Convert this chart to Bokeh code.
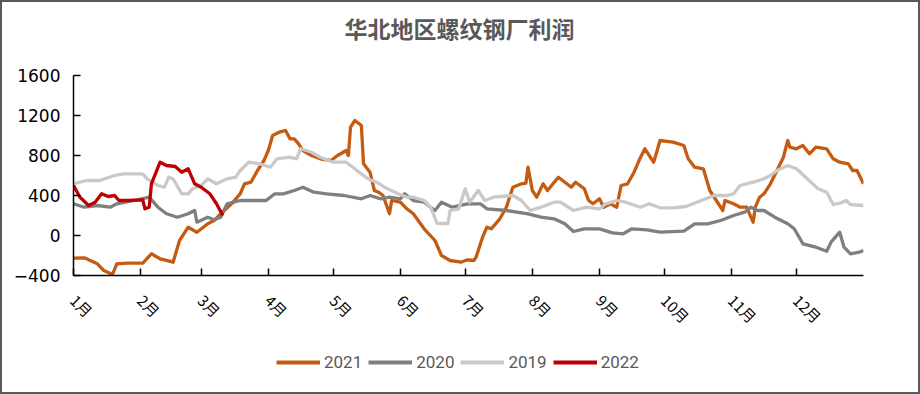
import math
from bokeh.plotting import figure
from bokeh.models import Range1d, FixedTicker, Legend, LegendItem
from bokeh.layouts import column
from bokeh.embed import file_html
from bokeh.resources import INLINE

# ---------------- data ----------------
title_text = "华北地区螺纹钢厂利润"
month_labels = ["1月", "2月", "3月", "4月", "5月", "6月", "7月", "8月", "9月", "10月", "11月", "12月"]
month_start_day = [0, 31, 59, 90, 120, 151, 181, 212, 243, 273, 304, 334]
y_ticks = [-400, 0, 400, 800, 1200, 1600]

day_2021 = [0, 5, 11, 14, 18, 20, 25, 32, 36, 40, 42, 46, 49, 53, 57, 60, 62, 65, 68, 73, 77, 79, 82, 85, 88,
            90, 92, 95, 98, 100, 102, 104, 106, 110, 114, 119, 122, 126, 127, 128, 130, 133, 134, 137, 139, 141,
            143, 146, 147, 151, 154, 157, 162, 167, 170, 174, 179, 182, 185, 186, 189, 191, 193, 197, 200, 203,
            207, 209, 210, 212, 214, 217, 219, 224, 227, 230, 232, 236, 238, 240, 243, 245, 248, 251, 253, 256,
            259, 262, 264, 268, 269, 271, 277, 282, 284, 287, 291, 294, 297, 300, 301, 305, 308, 311, 314, 315,
            317, 319, 322, 325, 328, 330, 331, 334, 337, 340, 343, 348, 351, 354, 358, 360, 362, 365]
val_2021 = [-227, -223, -283, -350, -390, -283, -277, -277, -183, -233, -243, -267, -50, 83, 33, 83, 117, 150,
            217, 317, 417, 517, 533, 650, 750, 850, 1000, 1033, 1050, 967, 967, 917, 850, 800, 767, 750, 800, 850,
            800, 1083, 1150, 1100, 717, 633, 450, 433, 400, 217, 350, 333, 267, 217, 67, -50, -200, -250, -267,
            -243, -250, -217, -17, 83, 67, 167, 283, 483, 517, 523, 683, 450, 383, 517, 450, 583, 533, 483, 533,
            467, 350, 317, 367, 283, 317, 283, 500, 517, 633, 783, 867, 733, 800, 950, 933, 900, 767, 683, 667,
            450, 350, 250, 350, 317, 283, 283, 133, 283, 383, 417, 517, 650, 783, 950, 883, 867, 900, 817, 883,
            867, 767, 733, 717, 650, 650, 517]

day_2020 = [0, 5, 11, 17, 20, 28, 35, 39, 43, 48, 53, 56, 57, 62, 65, 68, 71, 77, 83, 89, 93, 97, 102, 106, 111,
            117, 125, 133, 137, 142, 146, 151, 153, 157, 162, 167, 170, 175, 182, 188, 191, 200, 210, 216, 222,
            227, 231, 236, 243, 249, 254, 258, 265, 271, 282, 287, 293, 299, 305, 310, 313, 316, 319, 324, 330,
            333, 337, 343, 348, 350, 354, 356, 359, 363, 365]
val_2020 = [317, 283, 300, 283, 317, 350, 383, 283, 217, 183, 217, 250, 133, 183, 157, 183, 317, 350, 350, 350,
            417, 417, 450, 483, 433, 417, 400, 367, 400, 367, 383, 367, 417, 350, 333, 250, 333, 283, 317, 317,
            267, 250, 217, 183, 167, 117, 40, 67, 67, 27, 17, 67, 57, 33, 43, 117, 117, 150, 200, 233, 283, 250,
            250, 183, 117, 67, -83, -117, -157, -67, 33, -117, -183, -167, -150]

day_2019 = [0, 6, 12, 19, 23, 32, 34, 39, 42, 44, 46, 50, 53, 55, 59, 62, 66, 71, 75, 77, 81, 86, 91, 94, 100,
            103, 105, 110, 114, 120, 126, 131, 136, 140, 145, 150, 154, 157, 162, 165, 168, 173, 174, 178, 181,
            183, 187, 190, 194, 203, 207, 211, 216, 222, 225, 231, 237, 243, 246, 251, 255, 262, 266, 271, 277,
            283, 290, 296, 302, 305, 308, 314, 319, 322, 325, 330, 334, 339, 344, 348, 351, 354, 357, 359, 365]
val_2019 = [517, 550, 550, 600, 617, 617, 567, 500, 483, 583, 567, 417, 417, 467, 500, 567, 517, 567, 583, 650,
            733, 717, 683, 767, 783, 767, 867, 833, 783, 733, 733, 650, 567, 533, 467, 417, 383, 383, 350, 283,
            120, 120, 250, 267, 467, 333, 450, 350, 383, 400, 350, 250, 283, 333, 333, 250, 283, 267, 317, 350,
            333, 283, 317, 277, 277, 290, 350, 400, 400, 417, 500, 533, 567, 600, 650, 700, 667, 567, 467, 433,
            310, 323, 350, 310, 300]

day_2022 = [0, 3, 7, 10, 13, 16, 19, 21, 25, 32, 33, 35, 36, 40, 43, 47, 50, 53, 56, 59, 61, 63, 66, 69]
val_2022 = [500, 383, 300, 333, 417, 390, 400, 350, 350, 357, 267, 283, 517, 733, 700, 690, 633, 667, 517, 483,
            450, 417, 320, 200]

series = [
    ("2021", day_2021, val_2021, "#C55A11"),
    ("2020", day_2020, val_2020, "#7F7F7F"),
    ("2019", day_2019, val_2019, "#C9C9C9"),
    ("2022", day_2022, val_2022, "#C00000"),
]

# ---------------- main chart ----------------
p = figure(width=916, height=338, output_backend="svg", toolbar_location=None,
           x_range=Range1d(0, 365), y_range=Range1d(-400, 1600),
           min_border_left=71, min_border_right=55, min_border_top=73, min_border_bottom=65)

p.title.text = title_text + "\n "
p.title.align = "left"
p.title.offset = 271
p.title.standoff = -6
p.title.text_font = "Noto Sans CJK SC"
p.title.text_font_size = "23px"
p.title.text_font_style = "bold"
p.title.text_color = "#595959"

p.outline_line_color = None
p.xgrid.visible = False
p.ygrid.visible = False
p.background_fill_color = "white"
p.border_fill_color = "white"

for name, xs, ys, col in series:
    p.line(xs, ys, line_color=col, line_width=3.3, line_join="round")

xa = p.xaxis[0]
xa.ticker = FixedTicker(ticks=month_start_day)
xa.major_label_overrides = {d: m for d, m in zip(month_start_day, month_labels)}
xa.major_label_orientation = -math.pi / 4
xa.major_label_text_font = "Noto Sans CJK SC"
xa.major_label_text_font_size = "15px"
xa.major_label_text_color = "black"
xa.major_label_standoff = 22
xa.minor_tick_line_color = None
xa.major_tick_in = 7
xa.major_tick_out = 0
xa.axis_line_width = 1.5
xa.axis_line_color = "black"
xa.major_tick_line_color = "black"
xa.major_tick_line_width = 1.5

ya = p.yaxis[0]
ya.ticker = FixedTicker(ticks=y_ticks)
ya.major_label_text_font = "DejaVu Sans"
ya.major_label_text_font_size = "17px"
ya.major_label_text_color = "black"
ya.major_label_standoff = 13
ya.minor_tick_line_color = None
ya.major_tick_in = 7
ya.major_tick_out = 0
ya.axis_line_width = 1.5
ya.axis_line_color = "black"
ya.major_tick_line_color = "black"
ya.major_tick_line_width = 1.5

# ---------------- legend strip ----------------
lg = figure(width=916, height=52, output_backend="svg", toolbar_location=None,
            x_range=Range1d(1000, 1001), y_range=Range1d(1000, 1001),
            x_axis_location=None, y_axis_location=None,
            min_border_left=0, min_border_right=0, min_border_top=0, min_border_bottom=0)
lg.outline_line_color = None
lg.xgrid.visible = False
lg.ygrid.visible = False
lg.background_fill_color = "white"
lg.border_fill_color = "white"

items = []
for name, xs, ys, col in series:
    r = lg.line(xs, ys, line_color=col, line_width=4)
    items.append(LegendItem(label=name, renderers=[r]))

legend = Legend(items=items, orientation="horizontal", location=(203, 20),
                glyph_width=44, glyph_height=20, label_standoff=4, spacing=6,
                padding=0, margin=0, border_line_color=None, background_fill_alpha=0,
                label_text_font="Roboto", label_text_font_size="17px",
                label_text_color="#595959")
lg.add_layout(legend, "center")

layout = column(p, lg, spacing=0)
layout.styles = {"border": "2px solid #595959"}

open("out.html", "w").write(file_html(layout, INLINE))
